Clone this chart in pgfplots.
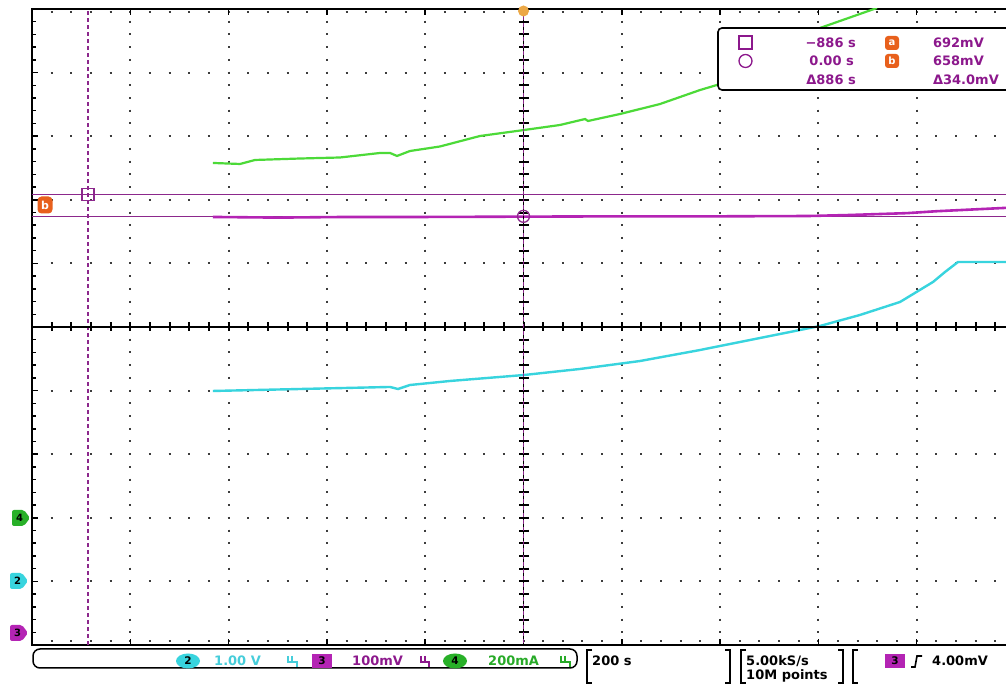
\documentclass[border=0pt]{standalone}
\usepackage{fontspec}
\setmainfont{DejaVu Sans}
\usepackage{pgfplots}
\pgfplotsset{compat=1.18}

\definecolor{chcyan}{RGB}{56,212,222}
\definecolor{chgreen}{RGB}{76,218,56}
\definecolor{chmag}{RGB}{180,36,180}
\definecolor{curmag}{RGB}{140,40,140}
\definecolor{txtmag}{RGB}{140,24,140}
\definecolor{orng}{RGB}{232,96,28}
\definecolor{trigorng}{RGB}{236,168,70}
\definecolor{txtgreen}{RGB}{40,170,40}
\definecolor{boxgreen}{RGB}{40,176,40}
\definecolor{txtcyan}{RGB}{70,205,218}
\definecolor{dotgray}{RGB}{60,60,60}

\newcommand{\scopefont}{\bfseries\fontsize{13}{14}\selectfont}

\tikzset{
  vdots/.style={dotgray, line width=2pt, dash pattern=on 2pt off 10.72pt, dash phase=1pt},
  hdots/.style={dotgray, line width=2pt, dash pattern=on 2pt off 17.66pt, dash phase=1pt},
}

\begin{document}
\begin{tikzpicture}
\useasboundingbox (0,0) rectangle (1006pt,684pt);
\fill[white] (0,0) rectangle (1006pt,684pt);

% dotted graticule: a dot at every subdivision along each major line
\begin{scope}[x=1pt,y=-1pt,shift={(0pt,684pt)}]
  \draw[vdots] (130.3,9) -- (130.3,645);
  \draw[vdots] (228.6,9) -- (228.6,645);
  \draw[vdots] (326.9,9) -- (326.9,645);
  \draw[vdots] (425.2,9) -- (425.2,645);
  \draw[vdots] (621.8,9) -- (621.8,645);
  \draw[vdots] (720.1,9) -- (720.1,645);
  \draw[vdots] (818.4,9) -- (818.4,645);
  \draw[vdots] (916.7,9) -- (916.7,645);
  \draw[hdots] (32,12.5) -- (1015,12.5);
  \draw[hdots] (32,72.6) -- (1015,72.6);
  \draw[hdots] (32,136.2) -- (1015,136.2);
  \draw[hdots] (32,199.8) -- (1015,199.8);
  \draw[hdots] (32,263.4) -- (1015,263.4);
  \draw[hdots] (32,390.6) -- (1015,390.6);
  \draw[hdots] (32,454.2) -- (1015,454.2);
  \draw[hdots] (32,517.8) -- (1015,517.8);
  \draw[hdots] (32,581.4) -- (1015,581.4);
  \draw[hdots] (32,641.5) -- (1015,641.5);
\end{scope}

\begin{axis}[
  at={(32pt,39pt)}, anchor=south west,
  scale only axis, width=983pt, height=636pt,
  xmin=0, xmax=10, ymin=-5, ymax=5,
  xtick={0,...,10}, ytick={-5,...,5},
  minor y tick num=4,
  xticklabels={}, yticklabels={},
  tick align=inside,
  major tick length=6pt, minor tick length=4.5pt,
  every tick/.style={black, line width=1.5pt},
  axis line style={black, line width=2.2pt},
  clip=true,
]
% horizontal cursors a and b
\addplot[curmag, line width=1.4pt] coordinates {(0,2.08) (10,2.08)};
\addplot[curmag, line width=1.4pt] coordinates {(0,1.74) (10,1.74)};
% vertical cursor at -886 s
\addplot[curmag, line width=1.3pt, dash pattern=on 4pt off 3pt] coordinates {(0.57,-5) (0.57,5)};

% channel 3 (100 mV/div)
\addplot[chmag, line width=2.6pt] coordinates {
(1.84,1.73) (2.5,1.72) (3.2,1.73) (4.0,1.73) (5.0,1.735) (6.0,1.74)
(7.0,1.74) (7.9,1.745) (8.3,1.76) (8.9,1.79) (9.2,1.82) (9.6,1.85) (10,1.88)};

% channel 4 (200 mA/div)
\addplot[chgreen, line width=2.2pt] coordinates {
(1.841,2.579) (2.116,2.563) (2.269,2.626) (2.726,2.649) (3.133,2.665)
(3.540,2.736) (3.642,2.736) (3.713,2.689) (3.845,2.767) (4.150,2.838)
(4.557,3.003) (5.005,3.097) (5.371,3.176) (5.626,3.270) (5.656,3.239)
(5.982,3.349) (6.389,3.506) (6.796,3.726) (6.968,3.805) (7.406,4.151)
(8.016,4.701) (8.596,5.016)};

% channel 2 (1.00 V/div)
\addplot[chcyan, line width=2.4pt] coordinates {
(1.841,-1.006) (2.726,-0.975) (3.642,-0.943) (3.723,-0.975) (3.845,-0.912)
(4.252,-0.849) (5.005,-0.755) (5.575,-0.660) (6.185,-0.535) (6.796,-0.362)
(7.406,-0.173) (8.016,0.016) (8.423,0.189) (8.830,0.393) (9.166,0.708)
(9.288,0.865) (9.420,1.022) (10,1.022)};
\end{axis}

\begin{scope}[x=1pt,y=-1pt,shift={(0pt,684pt)},font=\scopefont]
  % centre crosshair with subdivision marks
  \draw[black,line width=1.8pt] (32,327) -- (1015,327);
  \draw[black,line width=1.8pt] (523.5,9) -- (523.5,645);
  \draw[black,line width=9pt, dash pattern=on 2pt off 17.66pt, dash phase=1pt] (32,327) -- (1015,327);
  \draw[black,line width=10pt, dash pattern=on 2pt off 10.72pt, dash phase=1pt] (523.5,9) -- (523.5,645);
  % cursor at 0.00 s over the centre line
  \draw[curmag, line width=1.4pt, dash pattern=on 4pt off 3pt] (523.5,9) -- (523.5,645);
\end{scope}

% cursor handles
\begin{axis}[
  at={(32pt,39pt)}, anchor=south west,
  scale only axis, width=983pt, height=636pt,
  xmin=0, xmax=10, ymin=-5, ymax=5,
  hide axis, clip=false,
]
\addplot[curmag, only marks, mark=square, mark size=6pt, line width=1.3pt] coordinates {(0.57,2.08)};
\addplot[curmag, only marks, mark=o, mark size=6pt, line width=1.3pt] coordinates {(5,1.74)};
\end{axis}

\begin{scope}[x=1pt,y=-1pt,shift={(0pt,684pt)},font=\scopefont]
  % trigger position
  \fill[trigorng] (523.5,11) circle (5.5pt);
  % level marker of cursor b
  \node[fill=orng, text=white, rounded corners=4pt, inner sep=0pt,
        minimum width=15pt, minimum height=17pt, font=\bfseries\fontsize{11}{11}\selectfont] at (45,205) {b};

  % ground markers
  \fill[boxgreen, rounded corners=2pt] (12,510) -- (24,510) -- (30,518) -- (24,526) -- (12,526) -- cycle;
  \node[font=\bfseries\fontsize{10}{10}\selectfont, text=black] at (19.5,518) {4};
  \fill[chcyan, rounded corners=2pt] (10,573) -- (22,573) -- (28,581) -- (22,589) -- (10,589) -- cycle;
  \node[font=\bfseries\fontsize{10}{10}\selectfont, text=black] at (17.5,581) {2};
  \fill[chmag, rounded corners=2pt] (10,625) -- (22,625) -- (28,633) -- (22,641) -- (10,641) -- cycle;
  \node[font=\bfseries\fontsize{10}{10}\selectfont, text=black] at (17.5,633) {3};

  % cursor readout
  \draw[black, line width=1.6pt, fill=white, rounded corners=4pt] (718,28) rectangle (1014,90);
  \draw[txtmag, line width=1.3pt] (739,36) rectangle (752,49);
  \draw[txtmag, line width=1.3pt] (745.5,61) circle (6.5pt);
  \node[anchor=east, text=txtmag, inner sep=0pt] at (856,43) {−886 s};
  \node[anchor=east, text=txtmag, inner sep=0pt] at (854,61) {0.00 s};
  \node[anchor=east, text=txtmag, inner sep=0pt] at (856,80) {Δ886 s};
  \node[fill=orng, text=white, rounded corners=3pt, inner sep=0pt, minimum size=14pt,
        font=\bfseries\fontsize{10}{10}\selectfont] at (892,43) {a};
  \node[fill=orng, text=white, rounded corners=3pt, inner sep=0pt, minimum size=14pt,
        font=\bfseries\fontsize{10}{10}\selectfont] at (892,61) {b};
  \node[anchor=east, text=txtmag, inner sep=0pt] at (984,43) {692mV};
  \node[anchor=east, text=txtmag, inner sep=0pt] at (984,61) {658mV};
  \node[anchor=east, text=txtmag, inner sep=0pt] at (999,80) {Δ34.0mV};

  % vertical settings
  \draw[black, line width=1.5pt, rounded corners=7pt] (33,649) rectangle (577,668);
  \fill[chcyan] (188,661) ellipse (12pt and 7.5pt);
  \node[text=black, font=\bfseries\fontsize{10.5}{10}\selectfont] at (188,661) {2};
  \node[anchor=west, text=txtcyan, inner sep=0pt] at (214,661) {1.00 V};
  \draw[txtcyan, line width=1.5pt] (288,656) -- (288,662) -- (297,662) -- (297,667) (292,656) -- (292,662);
  \fill[chmag] (312,654) rectangle (332,668);
  \node[text=black, font=\bfseries\fontsize{10.5}{10}\selectfont] at (322,661) {3};
  \node[anchor=west, text=txtmag, inner sep=0pt] at (352,661) {100mV};
  \draw[txtmag, line width=1.5pt] (421,656) -- (421,662) -- (429,662) -- (429,667) (425,656) -- (425,662);
  \fill[boxgreen] (455,661) ellipse (12pt and 7.5pt);
  \node[text=black, font=\bfseries\fontsize{10.5}{10}\selectfont] at (455,661) {4};
  \node[anchor=west, text=txtgreen, inner sep=0pt] at (488,661) {200mA};
  \draw[txtgreen, line width=1.5pt] (561,656) -- (561,662) -- (570,662) -- (570,667) (565,656) -- (565,662);

  % horizontal settings
  \draw[black, line width=1.5pt] (592,650) -- (587,650) -- (587,683) -- (592,683);
  \node[anchor=west, text=black, inner sep=0pt] at (592,661) {200 s};
  \draw[black, line width=1.5pt] (725,650) -- (730,650) -- (730,683) -- (725,683);
  \draw[black, line width=1.5pt] (746,650) -- (741,650) -- (741,683) -- (746,683);
  \node[anchor=west, text=black, inner sep=0pt] at (746,661) {5.00kS/s};
  \node[anchor=west, text=black, inner sep=0pt] at (746,676) {10M points};
  \draw[black, line width=1.5pt] (838,650) -- (843,650) -- (843,683) -- (838,683);

  % trigger settings
  \draw[black, line width=1.5pt] (858,650) -- (853,650) -- (853,683) -- (858,683);
  \fill[chmag] (885,654) rectangle (905,668);
  \node[text=black, font=\bfseries\fontsize{10.5}{10}\selectfont] at (895,661) {3};
  \draw[black, line width=1.6pt] (911,667) -- (915,667) -- (917,656) -- (922,656);
  \node[anchor=west, text=black, inner sep=0pt] at (932,661) {4.00mV};
\end{scope}
\end{tikzpicture}
\end{document}
